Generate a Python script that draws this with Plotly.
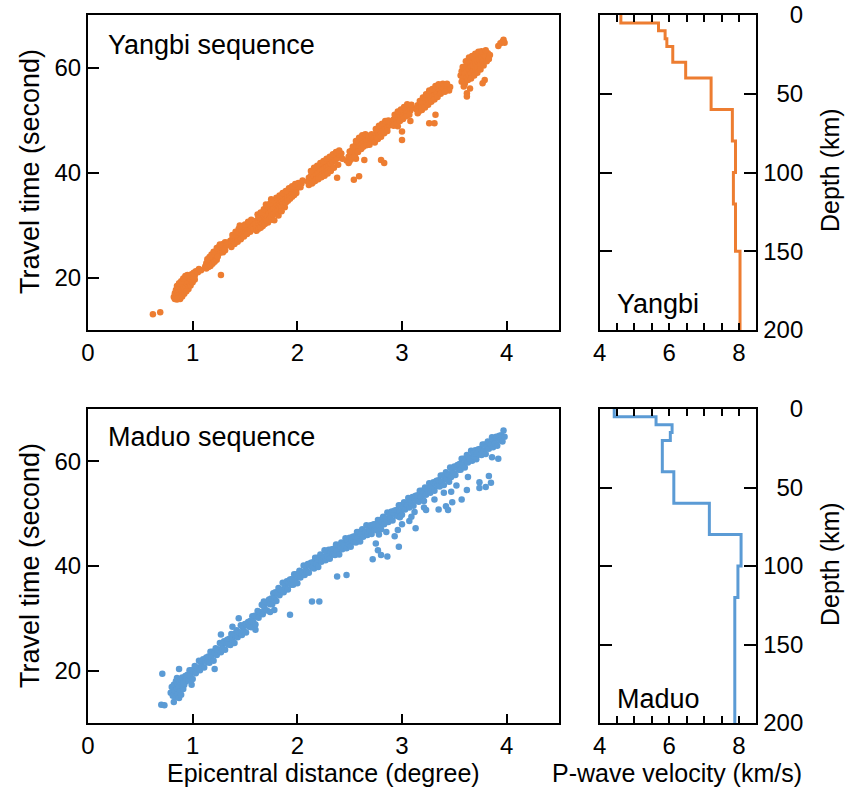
import plotly.graph_objects as go

W, H = 849, 789
FONT = "Liberation Sans, Arial, Helvetica, sans-serif"
ORANGE = "#ED7D31"
BLUE = "#5B9BD5"

# Travel-time picks: (epicentral distance in degrees, travel time in seconds)
yangbi_points = [
    (0.62, 13.0), (0.69, 13.4),
    (0.82, 16.3), (0.83, 17.0), (0.84, 16.1), (0.84, 17.6), (0.85, 16.6), (0.86, 17.2), (0.86, 18.0),
    (0.87, 16.4), (0.87, 17.5), (0.88, 16.9), (0.88, 18.3), (0.89, 17.7), (0.89, 16.6), (0.90, 18.6),
    (0.90, 17.3), (0.91, 18.0), (0.91, 19.2), (0.92, 17.6), (0.92, 18.8), (0.93, 18.3), (0.93, 19.6),
    (0.94, 18.9), (0.95, 19.3), (0.95, 18.1), (0.96, 19.9), (0.97, 19.0), (0.97, 20.2), (0.98, 19.6),
    (0.99, 20.6), (1.00, 20.0), (1.01, 20.9), (1.02, 20.4), (1.03, 21.2), (1.05, 21.0), (1.06, 21.6),
    (1.08, 21.4), (1.27, 20.5),
    (0.83, 15.9), (0.85, 15.8), (0.86, 16.0), (0.88, 15.9), (0.90, 16.4), (0.92, 16.9), (0.85, 18.4),
    (0.87, 18.9), (0.89, 19.3), (0.91, 19.8), (0.93, 20.3), (0.95, 20.5), (0.96, 17.8), (0.98, 18.5),
    (1.00, 19.1), (1.02, 19.6), (0.94, 17.4),
    (1.12, 22.1), (1.13, 22.7), (1.14, 22.3), (1.15, 23.1), (1.16, 22.6), (1.17, 23.5), (1.18, 23.0),
    (1.19, 23.9), (1.20, 23.4), (1.21, 24.4), (1.22, 23.8), (1.22, 24.9), (1.23, 24.3), (1.24, 25.3),
    (1.25, 24.6), (1.25, 25.8), (1.26, 25.1), (1.27, 26.0), (1.27, 24.8), (1.28, 25.5), (1.29, 26.4),
    (1.30, 25.8), (1.31, 26.7), (1.32, 26.1), (1.33, 26.6),
    (1.13, 21.7), (1.15, 22.0), (1.17, 22.2), (1.19, 22.6), (1.21, 23.0), (1.23, 23.4), (1.14, 23.5),
    (1.16, 23.9), (1.18, 24.4), (1.20, 24.9), (1.23, 25.6), (1.26, 26.3), (1.29, 24.8), (1.31, 25.2),
    (1.24, 24.0),
    (1.35, 26.3), (1.36, 27.0), (1.37, 26.6), (1.38, 27.4), (1.39, 26.9), (1.40, 27.8), (1.41, 27.2),
    (1.42, 28.1), (1.43, 27.5), (1.44, 28.6), (1.45, 27.9), (1.46, 28.4), (1.47, 29.0), (1.48, 28.2),
    (1.49, 28.8), (1.50, 29.4), (1.51, 28.7), (1.52, 29.2), (1.53, 29.8), (1.54, 29.1), (1.55, 30.1),
    (1.56, 29.5), (1.57, 30.5), (1.58, 29.9), (1.59, 30.7),
    (1.37, 25.8), (1.40, 26.4), (1.43, 26.8), (1.46, 27.3), (1.49, 27.8), (1.52, 28.3), (1.55, 28.7),
    (1.58, 29.2), (1.38, 28.1), (1.41, 28.7), (1.44, 29.3), (1.47, 29.7), (1.50, 30.1), (1.53, 30.6),
    (1.56, 31.0), (1.45, 29.9),
    (1.60, 30.2), (1.61, 29.6), (1.62, 31.0), (1.63, 30.4), (1.64, 29.9), (1.64, 31.5), (1.65, 30.8),
    (1.66, 31.3), (1.66, 30.1), (1.67, 31.9), (1.67, 29.8), (1.68, 30.6), (1.68, 32.3), (1.69, 31.4),
    (1.70, 32.0), (1.70, 30.9), (1.71, 32.6), (1.72, 31.6), (1.72, 33.0), (1.72, 30.5), (1.73, 32.2),
    (1.74, 31.3), (1.74, 33.3), (1.75, 32.7), (1.76, 33.7), (1.76, 31.9), (1.76, 31.0), (1.77, 33.1),
    (1.78, 34.0), (1.78, 32.5), (1.79, 33.5), (1.80, 34.3), (1.80, 32.9), (1.81, 33.8), (1.82, 34.6),
    (1.82, 33.2), (1.83, 34.1), (1.84, 35.0), (1.84, 33.6), (1.85, 34.5), (1.86, 35.3), (1.86, 34.0),
    (1.87, 34.8), (1.88, 35.6), (1.88, 33.4), (1.89, 35.1), (1.90, 35.9), (1.91, 35.4), (1.92, 36.2),
    (1.93, 35.7), (1.94, 36.5), (1.95, 36.0), (1.96, 36.8), (1.97, 36.3), (1.98, 37.1), (1.99, 36.7),
    (2.00, 37.3), (2.02, 37.6), (2.04, 37.9),
    (1.61, 28.9), (1.63, 29.3), (1.65, 29.5), (1.67, 30.3), (1.69, 30.2), (1.71, 30.8), (1.73, 31.0),
    (1.75, 31.6), (1.77, 32.0), (1.79, 32.3), (1.81, 32.6), (1.83, 33.0), (1.85, 33.4), (1.87, 33.9),
    (1.89, 34.3), (1.91, 34.6), (1.93, 35.0), (1.95, 35.4), (1.97, 35.7), (1.99, 36.1), (1.62, 32.0),
    (1.65, 32.4), (1.68, 33.0), (1.71, 33.6), (1.74, 34.1), (1.77, 34.6), (1.80, 35.2), (1.83, 35.6),
    (1.86, 36.1), (1.89, 36.5), (1.92, 37.0), (1.95, 37.4), (1.98, 37.8), (2.01, 38.0), (2.03, 37.2),
    (2.05, 38.5), (1.78, 30.9), (1.82, 31.8), (1.85, 32.6), (1.75, 34.9), (1.70, 33.9),
    (2.10, 38.3), (2.11, 39.0), (2.12, 38.5), (2.13, 39.4), (2.14, 38.8), (2.15, 39.8), (2.15, 38.2),
    (2.16, 39.3), (2.17, 40.1), (2.18, 39.6), (2.18, 38.7), (2.19, 40.4), (2.20, 39.9), (2.20, 39.0),
    (2.21, 40.7), (2.22, 40.2), (2.22, 39.3), (2.23, 41.0), (2.24, 40.5), (2.24, 39.6), (2.25, 41.3),
    (2.26, 40.8), (2.26, 39.9), (2.27, 41.6), (2.28, 41.1), (2.28, 40.2), (2.29, 41.9), (2.30, 41.4),
    (2.30, 40.5), (2.31, 42.2), (2.32, 41.7), (2.33, 42.5), (2.34, 42.0), (2.35, 42.9), (2.36, 42.4),
    (2.37, 43.2), (2.38, 42.7), (2.40, 43.4), (2.42, 43.6), (2.38, 39.0),
    (2.11, 37.6), (2.14, 37.9), (2.17, 38.4), (2.20, 38.7), (2.23, 39.1), (2.26, 39.4), (2.29, 39.8),
    (2.32, 40.3), (2.35, 40.9), (2.13, 40.3), (2.16, 40.9), (2.19, 41.3), (2.22, 41.8), (2.25, 42.2),
    (2.28, 42.6), (2.31, 43.0), (2.34, 43.5), (2.37, 43.9), (2.40, 44.2), (2.39, 41.5), (2.43, 42.6),
    (2.47, 42.3), (2.49, 43.0), (2.50, 42.2), (2.51, 43.6), (2.52, 44.2), (2.53, 43.1), (2.54, 44.7),
    (2.55, 43.8), (2.56, 45.3), (2.57, 44.4), (2.58, 45.8), (2.59, 44.9), (2.60, 46.1), (2.61, 45.3),
    (2.62, 46.4), (2.63, 45.6), (2.64, 46.7), (2.65, 45.9), (2.66, 46.3), (2.68, 46.0), (2.70, 46.5),
    (2.72, 46.2), (2.54, 38.6), (2.59, 39.3), (2.64, 42.4), (2.80, 42.4), (2.83, 41.8), (2.56, 42.6),
    (2.49, 41.8), (2.52, 42.6), (2.55, 43.1), (2.58, 43.9), (2.61, 44.5), (2.63, 44.9), (2.66, 45.2),
    (2.69, 45.3), (2.50, 44.0), (2.53, 44.9), (2.56, 46.0), (2.59, 46.6), (2.62, 47.1), (2.65, 47.3),
    (2.68, 47.0), (2.71, 47.3),
    (2.73, 46.3), (2.74, 46.9), (2.75, 47.4), (2.76, 46.6), (2.77, 47.8), (2.78, 47.1), (2.79, 48.2),
    (2.80, 47.5), (2.81, 48.6), (2.82, 47.9), (2.83, 48.9), (2.84, 48.3), (2.85, 49.2), (2.86, 48.6),
    (2.88, 49.0), (2.89, 49.6), (2.74, 45.7), (2.77, 46.4), (2.80, 46.8), (2.83, 47.5), (2.86, 47.9),
    (2.75, 48.3), (2.78, 48.9), (2.81, 49.3), (2.84, 49.8), (2.87, 49.9),
    (2.91, 49.4), (2.92, 50.1), (2.93, 49.7), (2.94, 50.5), (2.95, 50.0), (2.96, 50.9), (2.97, 50.3),
    (2.98, 51.2), (2.99, 50.6), (3.00, 51.5), (3.01, 50.9), (3.02, 51.8), (3.03, 51.2), (3.04, 52.1),
    (3.05, 51.5), (3.06, 52.4), (3.08, 51.8), (3.10, 52.3), (2.96, 48.8), (3.00, 47.8), (3.00, 46.2),
    (3.08, 49.8), (2.92, 48.9), (2.95, 49.3), (2.98, 49.8), (3.01, 50.2), (3.04, 50.7), (3.07, 51.0),
    (2.93, 51.0), (2.96, 51.6), (2.99, 52.0), (3.02, 52.5), (3.05, 53.0), (3.09, 52.9),
    (3.14, 52.0), (3.15, 52.8), (3.15, 51.3), (3.17, 52.4), (3.18, 53.3), (3.19, 52.7), (3.20, 53.8),
    (3.21, 53.1), (3.22, 54.2), (3.23, 53.5), (3.24, 54.6), (3.25, 53.9), (3.26, 54.9), (3.27, 54.2),
    (3.28, 55.3), (3.29, 54.6), (3.30, 55.6), (3.31, 54.9), (3.32, 55.9), (3.33, 55.2), (3.34, 56.2),
    (3.36, 55.8), (3.38, 56.3), (3.40, 56.0), (3.42, 56.5), (3.44, 56.2), (3.46, 56.3),
    (3.26, 49.4), (3.31, 49.4), (3.32, 51.0),
    (3.16, 51.6), (3.19, 51.9), (3.22, 52.4), (3.25, 52.9), (3.28, 53.5), (3.31, 53.9), (3.34, 54.4),
    (3.37, 55.0), (3.17, 53.6), (3.20, 54.3), (3.23, 54.9), (3.26, 55.6), (3.29, 55.9), (3.32, 56.5),
    (3.35, 56.8), (3.39, 56.9), (3.43, 56.9), (3.45, 55.6), (3.41, 55.4),
    (3.56, 58.5), (3.57, 59.3), (3.58, 58.0), (3.59, 59.8), (3.60, 58.9), (3.60, 57.5), (3.61, 60.2),
    (3.62, 59.3), (3.62, 58.1), (3.63, 60.6), (3.64, 59.7), (3.64, 58.5), (3.65, 61.0), (3.66, 60.1),
    (3.66, 58.9), (3.67, 61.3), (3.68, 60.4), (3.68, 59.3), (3.69, 61.7), (3.70, 60.8), (3.70, 59.6),
    (3.71, 62.1), (3.72, 61.2), (3.72, 60.0), (3.73, 62.4), (3.74, 61.5), (3.75, 60.6), (3.76, 62.0),
    (3.77, 61.1), (3.78, 62.5), (3.80, 62.2), (3.82, 62.7), (3.84, 62.4),
    (3.57, 57.3), (3.60, 56.9), (3.63, 57.6), (3.66, 57.9), (3.69, 58.5), (3.72, 59.0), (3.75, 59.6),
    (3.78, 60.4), (3.81, 61.2), (3.58, 60.1), (3.61, 61.2), (3.64, 61.9), (3.67, 62.2), (3.70, 62.6),
    (3.73, 63.0), (3.76, 63.1), (3.80, 63.3), (3.83, 61.6),
    (3.62, 54.5), (3.62, 55.1), (3.65, 56.0), (3.77, 57.0), (3.79, 57.6), (3.59, 56.4),
    (3.92, 64.1), (3.94, 64.6), (3.96, 64.9), (3.97, 65.3), (3.98, 64.7),
]

# Maduo: near-source picks, the main branch and the late arrivals below it
maduo_near = [
    (0.70, 13.5), (0.73, 13.4), (0.71, 19.4), (0.87, 20.3),
    (0.79, 15.8), (0.80, 16.9), (0.81, 15.2), (0.82, 14.0), (0.82, 17.3), (0.83, 16.1), (0.84, 15.0),
    (0.84, 18.0), (0.85, 16.6), (0.85, 18.6), (0.86, 15.5), (0.86, 17.4), (0.87, 14.8), (0.87, 16.9),
    (0.88, 17.8), (0.88, 16.0), (0.89, 18.3), (0.89, 15.4), (0.90, 17.1), (0.90, 18.7), (0.91, 16.5),
    (0.92, 18.2), (0.92, 17.3), (0.93, 19.0), (0.94, 18.5), (0.99, 17.3), (0.93, 17.9), (0.91, 17.6),
]
maduo_branch = [
    (0.95, 19.2), (0.96, 18.1), (0.97, 20.1), (0.98, 19.0), (0.99, 20.1), (1.00, 18.4), (1.01, 19.9),
    (1.02, 20.9), (1.03, 19.5), (1.04, 20.6), (1.05, 20.4), (1.06, 21.9), (1.07, 20.1), (1.08, 21.5),
    (1.09, 20.8), (1.10, 22.2), (1.11, 20.6), (1.12, 21.9), (1.13, 22.5), (1.14, 21.6), (1.15, 22.7),
    (1.16, 21.5), (1.17, 23.6), (1.18, 22.5), (1.19, 23.6), (1.20, 21.9), (1.21, 23.4), (1.22, 24.3),
    (1.23, 23.0), (1.24, 24.1), (1.25, 23.9), (1.26, 25.3), (1.27, 23.5), (1.28, 25.0), (1.29, 24.2),
    (1.30, 25.6), (1.31, 24.0), (1.32, 25.3), (1.33, 25.9), (1.34, 25.0), (1.35, 26.1), (1.36, 24.9),
    (1.37, 27.0), (1.38, 25.9), (1.39, 27.0), (1.40, 25.3), (1.41, 26.8), (1.42, 27.7), (1.43, 26.4),
    (1.44, 27.4), (1.45, 27.2), (1.46, 28.7), (1.47, 26.8), (1.48, 28.3), (1.49, 27.5), (1.50, 28.9),
    (1.51, 27.3), (1.52, 28.7), (1.53, 29.3), (1.54, 28.4), (1.55, 29.5), (1.56, 28.3), (1.57, 30.4),
    (1.58, 29.3), (1.59, 30.5), (1.60, 28.8), (1.61, 30.3), (1.62, 31.4), (1.63, 30.1), (1.64, 31.2),
    (1.65, 31.1), (1.66, 32.6), (1.67, 30.8), (1.68, 32.3), (1.69, 31.7), (1.70, 33.1), (1.71, 31.5),
    (1.72, 32.9), (1.73, 33.6), (1.74, 32.7), (1.75, 33.8), (1.76, 32.7), (1.77, 34.8), (1.78, 33.8),
    (1.79, 35.0), (1.80, 33.3), (1.81, 34.8), (1.82, 35.8), (1.83, 34.4), (1.84, 35.5), (1.85, 35.3),
    (1.86, 36.8), (1.87, 35.0), (1.88, 36.4), (1.89, 35.7), (1.90, 37.1), (1.91, 35.5), (1.92, 36.8),
    (1.93, 37.4), (1.94, 36.4), (1.95, 37.5), (1.96, 36.4), (1.97, 38.4), (1.98, 37.3), (1.99, 38.4),
    (2.00, 36.7), (2.01, 38.2), (2.02, 39.1), (2.03, 37.8), (2.04, 38.9), (2.05, 38.6), (2.06, 40.1),
    (2.07, 38.3), (2.08, 39.8), (2.09, 39.0), (2.10, 40.4), (2.11, 38.7), (2.12, 40.1), (2.13, 40.6),
    (2.14, 39.7), (2.15, 40.7), (2.16, 39.5), (2.17, 41.6), (2.18, 40.4), (2.19, 41.6), (2.20, 39.8),
    (2.21, 41.2), (2.22, 42.2), (2.23, 40.8), (2.24, 41.8), (2.25, 41.6), (2.26, 43.0), (2.27, 41.1),
    (2.28, 42.5), (2.29, 41.8), (2.30, 43.1), (2.31, 41.4), (2.32, 42.7), (2.33, 43.2), (2.34, 42.2),
    (2.35, 43.3), (2.36, 42.1), (2.37, 44.1), (2.38, 42.9), (2.39, 44.0), (2.40, 42.2), (2.41, 43.6),
    (2.42, 44.5), (2.43, 43.2), (2.44, 44.2), (2.45, 43.9), (2.46, 45.3), (2.47, 43.4), (2.48, 44.9),
    (2.49, 44.1), (2.50, 45.4), (2.51, 43.7), (2.52, 45.1), (2.53, 45.6), (2.54, 44.6), (2.55, 45.7),
    (2.56, 44.5), (2.57, 46.5), (2.58, 45.3), (2.59, 46.5), (2.60, 44.7), (2.61, 46.1), (2.62, 47.0),
    (2.63, 45.6), (2.64, 46.6), (2.65, 46.4), (2.66, 47.8), (2.67, 45.9), (2.68, 47.3), (2.69, 46.5),
    (2.70, 47.8), (2.71, 46.1), (2.72, 47.4), (2.73, 48.0), (2.74, 47.0), (2.75, 48.0), (2.76, 46.8),
    (2.77, 48.8), (2.78, 47.7), (2.79, 48.8), (2.80, 47.0), (2.81, 48.4), (2.82, 49.4), (2.83, 48.0),
    (2.84, 49.1), (2.85, 48.8), (2.86, 50.2), (2.87, 48.4), (2.88, 49.8), (2.89, 49.1), (2.90, 50.4),
    (2.91, 48.7), (2.92, 50.1), (2.93, 50.6), (2.94, 49.7), (2.95, 50.7), (2.96, 49.5), (2.97, 51.6),
    (2.98, 50.4), (2.99, 51.6), (3.00, 49.8), (3.01, 51.2), (3.02, 52.2), (3.03, 50.8), (3.04, 51.9),
    (3.05, 51.6), (3.06, 53.0), (3.07, 51.2), (3.08, 52.6), (3.09, 51.9), (3.10, 53.2), (3.11, 51.5),
    (3.12, 52.9), (3.13, 53.4), (3.14, 52.5), (3.15, 53.5), (3.16, 52.3), (3.17, 54.4), (3.18, 53.2),
    (3.19, 54.4), (3.20, 52.6), (3.21, 54.0), (3.22, 55.0), (3.23, 53.6), (3.24, 54.7), (3.25, 54.4),
    (3.26, 55.8), (3.27, 54.0), (3.28, 55.4), (3.29, 54.7), (3.30, 56.0), (3.31, 54.4), (3.32, 55.7),
    (3.33, 56.3), (3.34, 55.3), (3.35, 56.4), (3.36, 55.2), (3.37, 57.3), (3.38, 56.1), (3.39, 57.3),
    (3.40, 55.5), (3.41, 57.0), (3.42, 57.9), (3.43, 56.6), (3.44, 57.6), (3.45, 57.4), (3.46, 58.8),
    (3.47, 57.0), (3.48, 58.4), (3.49, 57.7), (3.50, 59.0), (3.51, 57.4), (3.52, 58.8), (3.53, 59.3),
    (3.54, 58.4), (3.55, 59.5), (3.56, 58.4), (3.57, 60.5), (3.58, 59.3), (3.59, 60.5), (3.60, 58.8),
    (3.61, 60.2), (3.62, 61.2), (3.63, 59.8), (3.64, 60.8), (3.65, 60.5), (3.66, 62.0), (3.67, 60.1),
    (3.68, 61.5), (3.69, 60.8), (3.70, 62.1), (3.71, 60.4), (3.72, 61.8), (3.73, 62.3), (3.74, 61.3),
    (3.75, 62.4), (3.76, 61.2), (3.77, 63.2), (3.78, 62.0), (3.79, 63.2), (3.80, 61.4), (3.81, 62.8),
    (3.82, 63.8), (3.83, 62.4), (3.84, 63.4), (3.85, 63.2), (3.86, 64.6), (3.87, 62.7), (3.88, 64.1),
    (3.89, 63.4), (3.90, 64.7), (3.91, 63.0), (3.92, 64.4), (3.93, 64.9), (3.94, 64.0), (3.95, 65.0),
    (3.96, 63.8), (3.97, 65.9), (3.98, 64.7),
]
maduo_late = [
    (1.21, 20.3), (1.27, 26.9), (1.38, 28.4), (1.44, 30.0), (1.60, 27.8), (1.68, 33.2), (1.74, 31.2),
    (1.78, 31.6), (1.93, 30.7), (2.14, 33.2), (2.21, 33.2), (2.38, 38.0), (2.47, 38.3), (2.72, 41.3),
    (2.75, 44.3), (2.77, 43.0), (2.78, 46.0), (2.80, 42.1), (2.85, 46.5), (2.86, 41.8), (2.93, 45.7),
    (2.96, 46.9), (2.97, 43.7), (2.98, 49.3), (3.00, 48.0), (3.07, 48.6), (3.09, 49.4), (3.12, 50.3),
    (3.13, 47.2), (3.21, 51.2), (3.21, 52.4), (3.23, 50.7), (3.31, 52.7), (3.35, 50.8), (3.40, 54.0),
    (3.42, 51.4), (3.44, 50.7), (3.45, 56.1), (3.47, 54.2), (3.48, 52.2), (3.52, 55.4), (3.57, 52.7),
    (3.62, 54.5), (3.63, 57.0), (3.74, 56.0), (3.74, 54.9), (3.80, 55.1), (3.83, 57.2), (3.85, 55.9),
    (3.86, 60.8), (3.92, 60.5),
]
maduo_points = maduo_near + maduo_branch + maduo_late

# 1-D P-wave velocity models: layer top depth (km) and velocity (km/s)
yangbi_layer_top = [0, 5, 10, 15, 20, 30, 40, 60, 80, 100, 120, 150]
yangbi_vp = [4.61, 5.69, 5.88, 5.93, 6.10, 6.47, 7.20, 7.81, 7.90, 7.84, 7.90, 8.03]
maduo_layer_top = [0, 5, 10, 15, 20, 40, 60, 80, 100, 120]
maduo_vp = [4.42, 5.62, 6.08, 6.03, 5.80, 6.13, 7.15, 8.06, 7.97, 7.88]
model_bottom = 200

dist_ticks = [0, 1, 2, 3, 4]
time_ticks = [20, 40, 60]
vel_ticks = [4.0, 4.5, 5.0, 5.5, 6.0, 6.5, 7.0, 7.5, 8.0, 8.5]
vel_labels = ["4", "", "", "", "6", "", "", "", "8", ""]
depth_ticks = [0, 50, 100, 150, 200]
NB = "\u00a0"
depth_labels = [NB * 4 + "0", NB * 2 + "50", "100", "150", "200"]


def px(x):
    return x / W


def py(y):
    return 1 - y / H


fig = go.Figure()

for pts, color, xa, ya in [(yangbi_points, ORANGE, "x", "y"), (maduo_points, BLUE, "x3", "y3")]:
    fig.add_trace(go.Scatter(
        x=[p[0] for p in pts], y=[p[1] for p in pts], mode="markers",
        marker=dict(color=color, size=6.5, line=dict(width=0)),
        xaxis=xa, yaxis=ya, showlegend=False, hoverinfo="skip"))

for tops, vp, color, xa, ya in [(yangbi_layer_top, yangbi_vp, ORANGE, "x2", "y2"),
                                (maduo_layer_top, maduo_vp, BLUE, "x4", "y4")]:
    fig.add_trace(go.Scatter(
        x=vp + [vp[-1]], y=tops + [model_bottom], mode="lines", line_shape="vh",
        line=dict(color=color, width=3), xaxis=xa, yaxis=ya,
        showlegend=False, hoverinfo="skip"))

tickfont = dict(family=FONT, size=24, color="black")
frame = dict(showline=True, linewidth=2, linecolor="black", showgrid=False, zeroline=False,
             tickfont=tickfont, tickcolor="black", fixedrange=True)

left_dom = [px(88), px(559)]
right_dom = [px(599.6), px(756.4)]
top_dom = [py(330), py(15)]
bot_dom = [py(723), py(409)]

layout_axes = {}
for i, (xdom, ydom) in enumerate([(left_dom, top_dom), (right_dom, top_dom),
                                  (left_dom, bot_dom), (right_dom, bot_dom)], start=1):
    xn = "xaxis" if i == 1 else f"xaxis{i}"
    yn = "yaxis" if i == 1 else f"yaxis{i}"
    anchor_x = "y" if i == 1 else f"y{i}"
    anchor_y = "x" if i == 1 else f"x{i}"
    if i in (1, 3):
        layout_axes[xn] = dict(frame, domain=xdom, anchor=anchor_x, range=[0, 4.5],
                               tickvals=dist_ticks, ticks="inside", ticklen=9, tickwidth=1.5,
                               mirror=True)
        layout_axes[yn] = dict(frame, domain=ydom, anchor=anchor_y, range=[10, 70],
                               tickvals=time_ticks, ticks="inside", ticklen=11, tickwidth=1.5,
                               mirror=True)
    else:
        layout_axes[xn] = dict(frame, domain=xdom, anchor=anchor_x, range=[4, 8.5],
                               tickvals=vel_ticks, ticktext=vel_labels, ticks="inside",
                               ticklen=7, tickwidth=1.5, mirror="ticks")
        layout_axes[yn] = dict(frame, domain=ydom, anchor=anchor_y, range=[200, 0],
                               tickvals=depth_ticks, ticktext=depth_labels, side="right",
                               ticks="inside", ticklen=12, tickwidth=1.5, mirror="ticks")

title_font = dict(family=FONT, size=27, color="black")
side_font = dict(family=FONT, size=25, color="black")
bottom_font = dict(family=FONT, size=25, color="black")
annotations = [
    dict(text="Yangbi sequence", x=px(106), y=py(45), xanchor="left", yanchor="middle"),
    dict(text="Maduo sequence", x=px(106), y=py(437), xanchor="left", yanchor="middle"),
    dict(text="Yangbi", x=px(615), y=py(304), xanchor="left", yanchor="middle"),
    dict(text="Maduo", x=px(615), y=py(699), xanchor="left", yanchor="middle"),
    dict(text="Travel time (second)", x=px(30), y=py(172), xanchor="center", yanchor="middle",
         textangle=-90),
    dict(text="Travel time (second)", x=px(30), y=py(566), xanchor="center", yanchor="middle",
         textangle=-90),
    dict(text="Depth (km)", x=px(830), y=py(170), xanchor="center", yanchor="middle",
         textangle=-90, font=side_font),
    dict(text="Depth (km)", x=px(830), y=py(564), xanchor="center", yanchor="middle",
         textangle=-90, font=side_font),
    dict(text="Epicentral distance (degree)", x=px(323), y=0, xanchor="center",
         yanchor="bottom", font=bottom_font),
    dict(text="P-wave velocity (km/s)", x=px(677), y=0, xanchor="center",
         yanchor="bottom", font=bottom_font),
]
for a in annotations:
    a.setdefault("font", title_font)
    a.update(xref="paper", yref="paper", showarrow=False)

fig.update_layout(
    width=W, height=H, autosize=False,
    margin=dict(l=0, r=0, t=0, b=0, pad=0, autoexpand=False),
    paper_bgcolor="white", plot_bgcolor="white",
    annotations=annotations,
    **layout_axes,
)

fig.write_html("out.html")
